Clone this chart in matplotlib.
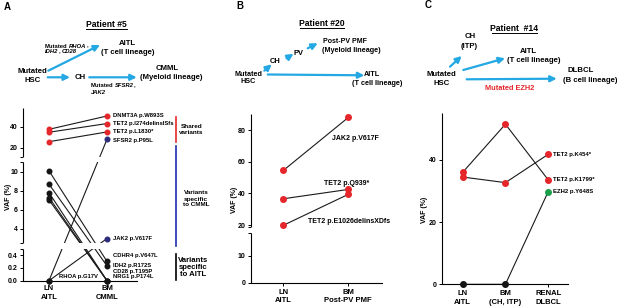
import numpy as np
import matplotlib
matplotlib.use('Agg')
import matplotlib.pyplot as plt
import matplotlib.transforms as mtransforms
from matplotlib.patches import FancyArrowPatch, Rectangle

plt.rcParams['font.family'] = ['Liberation Sans', 'DejaVu Sans']
plt.rcParams['font.weight'] = 'bold'

# ---------------- data ----------------
# Panel A, Patient #5: LN (AITL) -> BM (CMML)
a_samples = ['LN\nAITL', 'BM\nCMML']
a_shared_names = ['DNMT3A p.W893S', 'TET2 p.I274delinsISfs', 'TET2 p.L1830*']
a_shared_ln = [37.5, 34.7, 25.7]
a_shared_bm = [50.2, 43.0, 35.0]
a_cmml_names = ['SFSR2 p.P95L', 'JAK2 p.V617F']
a_cmml_ln = [0.0, 0.0]
a_cmml_bm = [28.0, 3.0]
a_aitl_names = ['CDHR4 p.V647L', 'IDH2 p.R172S', 'CD28 p.T195P', 'NRG1 p.P174L', 'RHOA p.G17V']
a_aitl_ln = [10.1, 8.7, 7.8, 7.3, 7.05]
a_aitl_bm = [0.30, 0.23, 0.0, 0.0, 0.0]
a_yticks = [0, 0.2, 0.4, 4, 6, 8, 10, 20, 40]
a_yticklabels = ['0.0', '0.2', '0.4', '4', '6', '8', '10', '20', '40']

# Panel B, Patient #20: LN (AITL) -> BM (Post-PV PMF)
b_samples = ['LN\nAITL', 'BM\nPost-PV PMF']
b_names = ['JAK2 p.V617F', 'TET2 p.Q939*', 'TET2 p.E1026delinsXDfs']
b_ln = [54.5, 36.6, 19.8]
b_bm = [88.0, 42.5, 39.4]
b_yticks = [0, 10, 20, 40, 60, 80]
b_yticklabels = ['0', '10', '20', '40', '60', '80']

# Panel C, Patient #14: LN (AITL) -> BM (CH, ITP) -> RENAL (DLBCL)
c_samples = ['LN\nAITL', 'BM\n(CH, ITP)', 'RENAL\nDLBCL']
c_names = ['TET2 p.K454*', 'TET2 p.K1799*', 'EZH2 p.Y648S']
c_vals = [[34.5, 32.7, 41.8], [36.0, 51.5, 33.6], [0.0, 0.0, 29.8]]
c_yticks = [0, 20, 40]
c_yticklabels = ['0', '20', '40']

# ---------------- styles ----------------
RED = '#e5262a'
NAVY = '#2c2b7c'
BLK = '#141414'
GREEN = '#1c9f4b'
SKY = '#23a8e3'
BLUE = '#1c2eb0'
LINE = '#1a1a1a'

W, H = 617, 308
fig = plt.figure(figsize=(W / 100, H / 100), dpi=100)
renderer = fig.canvas.get_renderer()


def px_axes(l, t, r, b):
    return fig.add_axes([l / W, 1 - b / H, (r - l) / W, (b - t) / H])


def set_broken(ax, dbp, sbp):
    d = np.asarray(dbp, float)
    s = np.asarray(sbp, float)

    def mk(a, b):
        def f(v):
            v = np.asarray(v, float)
            out = np.interp(v, a, b)
            out = np.where(v < a[0], b[0] + (v - a[0]) * (b[1] - b[0]) / (a[1] - a[0]), out)
            out = np.where(v > a[-1], b[-1] + (v - a[-1]) * (b[-1] - b[-2]) / (a[-1] - a[-2]), out)
            return out
        return f
    ax.set_yscale('function', functions=(mk(d, s), mk(s, d)))


def style_axes(ax, segments, gaps, yticks, yticklabels, minor, samples, xpad, ls):
    for sp in ['top', 'right', 'left']:
        ax.spines[sp].set_visible(False)
    ax.spines['bottom'].set_linewidth(0.8)
    tr = mtransforms.blended_transform_factory(ax.transAxes, ax.transData)
    for lo, hi in segments:
        ax.plot([0, 0], [lo, hi], transform=tr, color='black', lw=0.8,
                clip_on=False, zorder=6, solid_capstyle='butt')
    for lo, hi in gaps:
        ax.add_patch(Rectangle((0.002, lo), 1.2, hi - lo, transform=tr,
                               facecolor='white', edgecolor='none', zorder=3,
                               clip_on=False))
    ax.set_yticks(yticks)
    ax.set_yticklabels(yticklabels)
    ax.set_yticks(minor, minor=True)
    ax.yaxis.set_minor_formatter(matplotlib.ticker.NullFormatter())
    ax.tick_params(axis='y', which='both', labelsize=5, length=2.5, width=0.7, pad=1.2)
    ax.set_xticks(range(len(samples)))
    ax.set_xticklabels(samples, fontsize=5.5, linespacing=ls)
    ax.tick_params(axis='x', length=2, width=0.7, pad=xpad)
    ax.patch.set_alpha(0)


# ---------------- Panel A ----------------
axA = px_axes(23, 107.8, 137, 280.7)
set_broken(axA, [0, 0.5, 2.5, 11, 11.5, 58], [0, 32.1, 37.4, 118.5, 124.1, 172.9])
axA.set_ylim(0, 58)
axA.set_xlim(-0.448, 1.517)
style_axes(axA, [(0, 0.5), (2.5, 11), (11.5, 58)], [(0.5, 2.5), (11, 11.5)],
           a_yticks, a_yticklabels, [0.5, 2.5, 11, 11.5], a_samples, 1.0, 1.5)

MS_A = 3.3
for ln, bm in zip(a_shared_ln, a_shared_bm):
    axA.plot([0, 1], [ln, bm], color=LINE, lw=0.8, zorder=2)
    axA.plot([0, 1], [ln, bm], ls='none', marker='o', ms=MS_A, color=RED, zorder=5, clip_on=False)
for ln, bm in zip(a_cmml_ln, a_cmml_bm):
    axA.plot([0, 1], [ln, bm], color=LINE, lw=0.8, zorder=2)
    axA.plot([0], [ln], ls='none', marker='o', ms=MS_A, color=BLK, zorder=5, clip_on=False)
    axA.plot([1], [bm], ls='none', marker='o', ms=MS_A, color=NAVY, zorder=5, clip_on=False)
for ln, bm in zip(a_aitl_ln, a_aitl_bm):
    axA.plot([0, 1], [ln, bm], color=LINE, lw=0.8, zorder=2)
    axA.plot([0, 1], [ln, bm], ls='none', marker='o', ms=MS_A, color=BLK, zorder=5, clip_on=False)

fsA = 4.2
for name, v in zip(a_shared_names, a_shared_bm):
    axA.annotate(name, xy=(1, v), xytext=(4, 0), textcoords='offset points',
                 fontsize=fsA, va='center', ha='left', annotation_clip=False, zorder=7)
a_cmml_dy = [-0.7, 0]
for name, v, dy in zip(a_cmml_names, a_cmml_bm, a_cmml_dy):
    axA.annotate(name, xy=(1, v), xytext=(4, dy), textcoords='offset points',
                 fontsize=fsA, va='center', ha='left', annotation_clip=False, zorder=7)
a_aitl_off = [(4, 4.6), (4, 0.4), (4, 6.8), (4, 3.2), (-34.3, 2.7)]
for name, v, (dx, dy) in zip(a_aitl_names, a_aitl_bm, a_aitl_off):
    axA.annotate(name, xy=(1, v), xytext=(dx, dy), textcoords='offset points',
                 fontsize=fsA, va='center', ha='left', annotation_clip=False, zorder=7)

# ---------------- Panel B ----------------
axB = px_axes(250.7, 114.3, 381.7, 282.7)
set_broken(axB, [0, 18.3, 19, 90], [0, 49.4, 56.1, 168.4])
axB.set_ylim(0, 90)
axB.set_xlim(-0.502, 1.514)
style_axes(axB, [(0, 18.3), (19, 90)], [(18.3, 19)], b_yticks, b_yticklabels,
           [18.3, 19], b_samples, 2.2, 1.25)
for ln, bm in zip(b_ln, b_bm):
    axB.plot([0, 1], [ln, bm], color=LINE, lw=0.8, zorder=2)
    axB.plot([0, 1], [ln, bm], ls='none', marker='o', ms=4, color=RED, zorder=5, clip_on=False)
b_off = [(-12, -15.1), (-17.5, 4.3), (-29.2, -19.7)]
for name, v, (dx, dy) in zip(b_names, b_bm, b_off):
    axB.annotate(name, xy=(1, v), xytext=(dx, dy), textcoords='offset points',
                 fontsize=5.0, va='center', ha='left', annotation_clip=False, zorder=7)

# ---------------- Panel C ----------------
axC = px_axes(441.7, 113.3, 568.3, 284.3)
axC.set_ylim(0, 55)
axC.set_xlim(-0.49, 2.47)
style_axes(axC, [(0, 55)], [], c_yticks, c_yticklabels, [], c_samples, 2.2, 1.45)
c_colors = [[RED, RED, RED], [RED, RED, RED], [BLK, BLK, GREEN]]
xs = list(range(len(c_samples)))
for vals, cols in zip(c_vals, c_colors):
    axC.plot(xs, vals, color=LINE, lw=0.8, zorder=2)
    for x, v, c in zip(xs, vals, cols):
        axC.plot([x], [v], ls='none', marker='o', ms=4, color=c, zorder=5, clip_on=False)
for name, vals in zip(c_names, c_vals):
    axC.annotate(name, xy=(2, vals[-1]), xytext=(3.4, 0), textcoords='offset points',
                 fontsize=4.3, va='center', ha='left', annotation_clip=False, zorder=7)

# ---------------- overlay (diagrams, letters, side notes) ----------------
ov = fig.add_axes([0, 0, 1, 1])
ov.set_xlim(0, W)
ov.set_ylim(H, 0)
ov.axis('off')


def arrow(x0, y0, x1, y1):
    ov.add_patch(FancyArrowPatch((x0, y0), (x1, y1), arrowstyle='-|>', mutation_scale=9,
                                 lw=1.6, color=SKY, shrinkA=0, shrinkB=0))


def t(x, y, s, fs=5.6, **kw):
    kw.setdefault('ha', 'center')
    kw.setdefault('va', 'center')
    return ov.text(x, y, s, fontsize=fs, **kw)


def rich(x, y, parts, fs):
    # y is the baseline in pixel coords; parts placed one after the other
    for s, st in parts:
        trail = s.endswith(' ')
        s = s.rstrip(' ')
        a = ov.text(x, y, s, fontsize=fs, style=st, ha='left', va='baseline')
        bb = a.get_window_extent(renderer)
        x = ov.transData.inverted().transform((bb.x1, bb.y0))[0]
        if trail:
            x += fs * 0.28 * 100 / 72


def underline(x0, x1, y):
    ov.plot([x0, x1], [y, y], color='black', lw=0.7)


# letters
t(7, 7, 'A', fs=7)
t(240, 6, 'B', fs=7)
t(428, 5, 'C', fs=7)

# Panel A diagram
t(106.3, 24.5, 'Patient #5', fs=6.2)
underline(86, 127, 28.8)
t(127.3, 43.3, 'AITL')
t(127.3, 52.7, '(T cell lineage)')
t(32.3, 71.7, 'Mutated')
t(32.3, 81, 'HSC')
t(80, 77.3, 'CH')
t(166.7, 68.3, 'CMML')
t(171.7, 77.7, '(Myeloid lineage)')
rich(45, 47.6, [('Mutated ', 'normal'), ('RHOA', 'italic'), (',', 'normal')], 4.2)
rich(45, 53.3, [('IDH2', 'italic'), (', ', 'normal'), ('CD28', 'italic')], 4.2)
rich(90.7, 87.3, [('Mutated ', 'normal'), ('SFSR2', 'italic'), (',', 'normal')], 4.2)
rich(90.7, 93.9, [('JAK2', 'italic')], 4.2)
arrow(48.3, 70.7, 100, 45)
arrow(47.7, 77.3, 70, 77.3)
arrow(89.3, 77.3, 136.7, 77.3)

# Panel A side notes
ov.plot([176, 176], [117, 142], color=RED, lw=1.2)
ov.plot([176, 176], [146, 246], color=BLUE, lw=1.2)
ov.plot([176, 176], [254, 280], color='black', lw=1.2)
t(191.7, 129.5, 'Shared\nvariants', fs=4.6, linespacing=1.2)
t(196, 199, 'Variants\nspecific\nto CMML', fs=4.6, linespacing=1.25)
t(193.3, 267.7, 'Variants\nspecific\nto AITL', fs=5.6, linespacing=1.05)
t(8, 197, 'VAF (%)', fs=5, rotation=90)

# Panel B diagram
t(321.7, 24, 'Patient #20', fs=6.2)
underline(300, 343.5, 28)
t(248.3, 74, 'Mutated', fs=5.2)
t(248.3, 81.7, 'HSC', fs=5.2)
t(275, 61.7, 'CH', fs=5.4)
t(298.3, 53.3, 'PV', fs=5.4)
t(344.7, 41.7, 'Post-PV PMF', fs=5.0)
t(351.7, 50, '(Myeloid lineage)', fs=5.2)
t(371.7, 75, 'AITL', fs=5.2)
t(376.7, 83.3, '(T cell lineage)', fs=5.2)
arrow(264.3, 70.7, 271.7, 64.3)
arrow(286.5, 58.3, 293.5, 53.8)
arrow(307.7, 48.3, 317.7, 43.3)
arrow(267.7, 74.5, 364.3, 75.3)
t(234.3, 200, 'VAF (%)', fs=5, rotation=90)

# Panel C diagram
t(514, 28.5, 'Patient  #14', fs=6.2)
underline(491.5, 536.5, 32.8)
t(470, 36.7, 'CH', fs=5.6)
t(469.3, 46.7, '(ITP)', fs=5.6)
t(528.3, 51.7, 'AITL', fs=5.6)
t(534, 61, '(T cell lineage)', fs=5.6)
t(580.7, 71, 'DLBCL', fs=5.6)
t(590, 80.7, '(B cell lineage)', fs=5.6)
t(441.7, 75, 'Mutated', fs=5.6)
t(441.7, 83.3, 'HSC', fs=5.6)
t(510, 88.3, 'Mutated EZH2', fs=5.3, color=RED)
arrow(450, 66.7, 461.7, 56)
arrow(463.3, 70, 505, 58.3)
arrow(466.7, 79.3, 556.7, 78.7)
t(425, 210, 'VAF (%)', fs=5, rotation=90)

fig.savefig('out.png', dpi=100)
